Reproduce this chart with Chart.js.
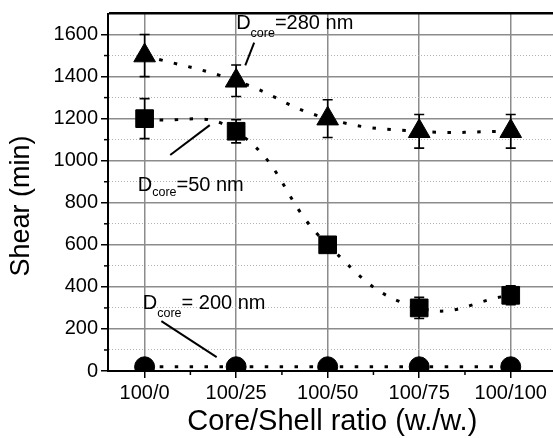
<!DOCTYPE html>
<html>
<head>
<meta charset="utf-8">
<script src="https://cdn.jsdelivr.net/npm/chart.js@4.4.0/dist/chart.umd.min.js"></script>
<style>
html,body{margin:0;padding:0;background:#fff;overflow:hidden;}
canvas{display:block;}
</style>
</head>
<body>
<canvas id="c" width="570" height="438"></canvas>
<script>
// ---- data ----
const categories = ['100/0', '100/25', '100/50', '100/75', '100/100'];
const shear280 = [1500, 1380, 1200, 1140, 1140];
const err280   = [100, 75, 90, 80, 80];
const shear50  = [1200, 1140, 600, 300, 360];
const err50    = [95, 55, 30, 50, 45];
const shear200 = [20, 20, 20, 20, 20];
const err200   = [0, 0, 0, 0, 0];
const yTickLabels = [0, 200, 400, 600, 800, 1000, 1200, 1400, 1600];
const yMinorTicks = [100, 300, 500, 700, 900, 1100, 1300, 1500];
const xTickValues = [0, 0.5, 1, 1.5, 2, 2.5, 3, 3.5, 4];
const xMinorTicks = [0.5, 1.5, 2.5, 3.5];
const yTitle = 'Shear (min)';
const xTitle = 'Core/Shell ratio (w./w.)';
// annotation texts anchored in data units
const annotations = [
  {main: 'D', sub: 'core', rest: '=280 nm',  x: 1.0,   y: 1624, subDy: 8},
  {main: 'D', sub: 'core', rest: '=50 nm',   x: -0.075, y: 858, subDy: 5},
  {main: 'D', sub: 'core', rest: '= 200 nm', x: -0.02, y: 293,  subDy: 8}
];
const leaders = [
  [1.197, 1562, 1.10, 1453],
  [0.28, 1027, 0.712, 1169],
  [0.183, 237, 0.787, 66]
];

const FONT = "'Liberation Sans', Arial, Helvetica, sans-serif";
const isInt = v => Math.abs(v - Math.round(v)) < 1e-9;

function makeSet(vals, errs, style, radius) {
  return {
    data: vals.map((v, i) => ({x: i, y: v})),
    errors: errs,
    pointStyle: style,
    pointRadius: radius,
    pointHoverRadius: radius,
    pointBackgroundColor: '#000',
    pointBorderColor: '#000',
    pointBorderWidth: 1,
    borderColor: '#000',
    borderWidth: 3,
    borderDash: [3.5, 11.5],
    tension: 0.45,
    fill: false
  };
}

const errorBars = {
  id: 'errorBars',
  afterDatasetsDraw(chart) {
    const {ctx, scales: {x, y}} = chart;
    ctx.save();
    ctx.strokeStyle = '#000';
    ctx.lineWidth = 1.6;
    chart.data.datasets.forEach(ds => {
      ds.data.forEach((p, i) => {
        const e = ds.errors[i];
        if (!e) return;
        const px = x.getPixelForValue(p.x);
        const yt = y.getPixelForValue(p.y + e);
        const yb = y.getPixelForValue(p.y - e);
        ctx.beginPath();
        ctx.moveTo(px, yt); ctx.lineTo(px, yb);
        ctx.moveTo(px - 5, yt); ctx.lineTo(px + 5, yt);
        ctx.moveTo(px - 5, yb); ctx.lineTo(px + 5, yb);
        ctx.stroke();
      });
    });
    ctx.restore();
  }
};

const extras = {
  id: 'extras',
  afterDraw(chart) {
    const {ctx, scales: {x, y}} = chart;
    ctx.save();
    // minor ticks
    ctx.strokeStyle = '#000';
    ctx.lineWidth = 1.5;
    const xb = y.getPixelForValue(0);
    xMinorTicks.forEach(v => {
      const px = x.getPixelForValue(v);
      ctx.beginPath(); ctx.moveTo(px, xb); ctx.lineTo(px, xb + 4); ctx.stroke();
    });
    const yl = x.getPixelForValue(x.min);
    yMinorTicks.forEach(v => {
      const py = y.getPixelForValue(v);
      ctx.beginPath(); ctx.moveTo(yl, py); ctx.lineTo(yl - 4, py); ctx.stroke();
    });
    // leader lines
    ctx.lineWidth = 2;
    leaders.forEach(l => {
      ctx.beginPath();
      ctx.moveTo(x.getPixelForValue(l[0]), y.getPixelForValue(l[1]));
      ctx.lineTo(x.getPixelForValue(l[2]), y.getPixelForValue(l[3]));
      ctx.stroke();
    });
    // annotation texts
    ctx.fillStyle = '#000';
    ctx.textBaseline = 'alphabetic';
    ctx.textAlign = 'left';
    annotations.forEach(a => {
      const px = x.getPixelForValue(a.x);
      const py = y.getPixelForValue(a.y);
      ctx.font = '20px ' + FONT;
      ctx.fillText(a.main, px, py);
      const w1 = ctx.measureText(a.main).width;
      ctx.font = '12.5px ' + FONT;
      ctx.fillText(a.sub, px + w1, py + a.subDy);
      const w2 = ctx.measureText(a.sub).width;
      ctx.font = '20px ' + FONT;
      ctx.fillText(a.rest, px + w1 + w2, py);
    });
    // y axis title
    ctx.save();
    ctx.translate(22, 206);
    ctx.rotate(-Math.PI / 2);
    ctx.textAlign = 'center';
    ctx.textBaseline = 'middle';
    ctx.font = '27px ' + FONT;
    ctx.fillText(yTitle, 0, 0);
    ctx.restore();
    ctx.restore();
  }
};

new Chart(document.getElementById('c'), {
  type: 'line',
  data: {
    datasets: [
      makeSet(shear280, err280, 'triangle', 12.5),
      makeSet(shear50, err50, 'rect', 12.5),
      makeSet(shear200, err200, 'circle', 10)
    ]
  },
  options: {
    responsive: false,
    devicePixelRatio: 1,
    animation: false,
    events: [],
    layout: {padding: {top: 12, right: 7.5, left: 0, bottom: 0}},
    plugins: {legend: {display: false}, tooltip: {enabled: false}},
    scales: {
      x: {
        type: 'linear',
        min: -0.4,
        max: 4.5,
        afterBuildTicks(s) { s.ticks = xTickValues.map(v => ({value: v})); },
        afterFit(s) { s.height = 67; s.paddingLeft = 0; s.paddingRight = 0; },
        ticks: {
          autoSkip: false,
          maxRotation: 0,
          padding: 3,
          color: '#000',
          font: {family: FONT, size: 20},
          callback: v => isInt(v) ? categories[Math.round(v)] : ''
        },
        grid: {
          color: c => (c.tick && isInt(c.tick.value)) ? '#8c8c8c' : 'rgba(0,0,0,0)',
          lineWidth: 1.5,
          tickColor: c => (c.tick && isInt(c.tick.value)) ? '#000' : 'rgba(0,0,0,0)',
          tickLength: 7,
          tickWidth: 1.5
        },
        border: {color: '#000', width: 2},
        title: {
          display: true,
          text: xTitle,
          color: '#000',
          font: {family: FONT, size: 29, lineHeight: 1.1},
          padding: {top: 0, bottom: 0}
        }
      },
      y: {
        type: 'linear',
        min: 0,
        max: 1700,
        afterFit(s) { s.width = 108; s.paddingTop = 0; s.paddingBottom = 0; },
        ticks: {
          stepSize: 100,
          autoSkip: false,
          padding: 3,
          color: '#000',
          font: {family: FONT, size: 20},
          callback: v => yTickLabels.includes(v) ? String(v) : ''
        },
        grid: {
          color: c => {
            const v = c.tick ? c.tick.value : 0;
            if (v === 1700) return '#000';
            return v % 200 === 0 ? '#8c8c8c' : '#b4b4b4';
          },
          lineWidth: c => {
            const v = c.tick ? c.tick.value : 0;
            if (v === 1700) return 2.5;
            return v % 200 === 0 ? 1.5 : 1;
          },
          tickColor: c => (c.tick && yTickLabels.includes(c.tick.value)) ? '#000' : 'rgba(0,0,0,0)',
          tickLength: 7,
          tickWidth: 1.5
        },
        border: {
          color: '#000',
          width: 2,
          dash: c => (c.tick && c.tick.value % 200 !== 0 && c.tick.value !== 1700) ? [1, 2] : []
        },
        title: {display: false}
      }
    }
  },
  plugins: [errorBars, extras]
});
</script>
</body>
</html>
